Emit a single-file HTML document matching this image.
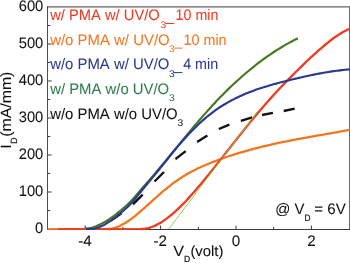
<!DOCTYPE html>
<html><head><meta charset="utf-8"><title>chart</title>
<style>
html,body{margin:0;padding:0;background:#fff;}
body{width:350px;height:263px;overflow:hidden;font-family:"Liberation Sans",sans-serif;}
svg{display:block;mix-blend-mode:multiply;filter:blur(0.3px)}
text{font-family:"Liberation Sans",sans-serif;stroke-width:0.22px;font-kerning:none;text-rendering:geometricPrecision;}
.tk{font-size:15.2px;fill:#111;stroke:#111;stroke-width:0.05px}
.lg{font-size:15.2px;stroke-width:0.05px}
.ax{font-size:14.8px;stroke-width:0.08px}
.sb{font-size:9.7px;stroke-width:0.03px}
.sb2{font-size:8.4px}
.sb3{font-size:9.2px;stroke-width:0.2px}
.sb4{font-size:9.1px;stroke-width:0.2px}
</style></head><body>
<svg width="350" height="263" viewBox="0 0 350 263">
<rect width="350" height="263" fill="#fff"/>
<rect x="47" y="6.4" width="302.5" height="1" fill="#3a3a3a"/>
<rect x="47.05" y="6.4" width="0.9" height="223.6" fill="#3a3a3a"/>
<rect x="349.1" y="6.4" width="0.9" height="223.6" fill="#555"/>
<rect x="47" y="229" width="303" height="1" fill="#3a3a3a"/>
<rect x="48" y="210.00" width="2.2" height="1" fill="#3a3a3a"/>
<rect x="48" y="191.50" width="3.6" height="1" fill="#3a3a3a"/>
<rect x="48" y="173.00" width="2.2" height="1" fill="#3a3a3a"/>
<rect x="48" y="154.50" width="3.6" height="1" fill="#3a3a3a"/>
<rect x="48" y="136.00" width="2.2" height="1" fill="#3a3a3a"/>
<rect x="48" y="117.50" width="3.6" height="1" fill="#3a3a3a"/>
<rect x="48" y="99.00" width="2.2" height="1" fill="#3a3a3a"/>
<rect x="48" y="80.50" width="3.6" height="1" fill="#3a3a3a"/>
<rect x="48" y="62.00" width="2.2" height="1" fill="#3a3a3a"/>
<rect x="48" y="43.50" width="3.6" height="1" fill="#3a3a3a"/>
<rect x="48" y="25.00" width="2.2" height="1" fill="#3a3a3a"/>
<rect x="84.70" y="225.50" width="1" height="3.5" fill="#3a3a3a"/>
<rect x="122.40" y="226.80" width="1" height="2.2" fill="#3a3a3a"/>
<rect x="160.10" y="225.50" width="1" height="3.5" fill="#3a3a3a"/>
<rect x="197.80" y="226.80" width="1" height="2.2" fill="#3a3a3a"/>
<rect x="235.50" y="225.50" width="1" height="3.5" fill="#3a3a3a"/>
<rect x="273.20" y="226.80" width="1" height="2.2" fill="#3a3a3a"/>
<rect x="310.90" y="225.50" width="1" height="3.5" fill="#3a3a3a"/>
<line x1="111.0" y1="220.5" x2="121.5" y2="213.3" stroke="#111" stroke-width="2.35"/>
<line x1="132.9" y1="204.3" x2="142.7" y2="194.7" stroke="#111" stroke-width="2.35"/>
<line x1="154.5" y1="181.5" x2="164.0" y2="172.0" stroke="#111" stroke-width="2.35"/>
<line x1="175.4" y1="159.1" x2="185.7" y2="151.1" stroke="#111" stroke-width="2.35"/>
<line x1="197.1" y1="142.0" x2="207.4" y2="135.6" stroke="#111" stroke-width="2.35"/>
<line x1="218.8" y1="129.0" x2="229.4" y2="124.7" stroke="#111" stroke-width="2.35"/>
<line x1="240.9" y1="120.9" x2="252.3" y2="117.4" stroke="#111" stroke-width="2.35"/>
<line x1="262.0" y1="115.0" x2="272.9" y2="112.9" stroke="#111" stroke-width="2.35"/>
<line x1="283.7" y1="111.0" x2="294.7" y2="108.7" stroke="#111" stroke-width="2.35"/>
<path d="M84.50 228.64 C84.99 228.64 86.47 228.70 87.46 228.61 C88.44 228.53 89.43 228.35 90.41 228.13 C91.40 227.91 92.39 227.61 93.37 227.28 C94.36 226.95 95.34 226.59 96.33 226.16 C97.31 225.74 98.30 225.20 99.29 224.73 C100.27 224.26 101.26 223.84 102.24 223.35 C103.23 222.86 104.21 222.36 105.20 221.80 C106.19 221.25 107.17 220.64 108.16 220.00 C109.14 219.36 110.13 218.68 111.11 217.98 C112.10 217.27 113.09 216.53 114.07 215.77 C115.06 215.02 116.04 214.23 117.03 213.44 C118.01 212.65 119.00 211.84 119.99 211.03 C120.97 210.21 121.96 209.40 122.94 208.56 C123.93 207.73 124.91 206.88 125.90 205.99 C126.89 205.10 127.87 204.18 128.86 203.22 C129.84 202.26 130.83 201.26 131.81 200.22 C132.80 199.17 133.79 198.06 134.77 196.94 C135.76 195.82 136.74 194.66 137.73 193.51 C138.71 192.35 139.70 191.16 140.69 190.01 C141.67 188.85 142.66 187.70 143.64 186.56 C144.63 185.43 145.61 184.33 146.60 183.21 C147.59 182.10 148.57 181.00 149.56 179.88 C150.54 178.76 151.53 177.63 152.51 176.50 C153.50 175.37 154.49 174.23 155.47 173.07 C156.46 171.91 157.44 170.72 158.43 169.54 C159.41 168.36 160.40 167.18 161.39 166.00 C162.37 164.82 163.36 163.65 164.34 162.45 C165.33 161.25 166.31 160.03 167.30 158.82 C168.29 157.61 169.27 156.39 170.26 155.18 C171.24 153.98 171.49 153.68 173.21 151.58 C174.94 149.48 178.95 144.62 180.63 142.58 C182.31 140.53 182.40 140.40 183.29 139.31 C184.18 138.23 185.07 137.14 185.96 136.06 C186.85 134.99 187.73 133.91 188.62 132.84 C189.51 131.77 190.40 130.70 191.29 129.64 C192.18 128.58 193.06 127.52 193.95 126.47 C194.84 125.42 195.73 124.37 196.62 123.33 C197.51 122.28 198.40 121.25 199.28 120.22 C200.17 119.19 201.06 118.16 201.95 117.15 C202.84 116.13 203.73 115.12 204.61 114.11 C205.50 113.11 206.39 112.11 207.28 111.12 C208.17 110.13 209.06 109.15 209.94 108.17 C210.83 107.20 211.72 106.23 212.61 105.27 C213.50 104.31 214.39 103.36 215.28 102.42 C216.16 101.48 217.05 100.54 217.94 99.62 C218.83 98.69 219.72 97.77 220.61 96.86 C221.49 95.95 222.38 95.05 223.27 94.15 C224.16 93.26 225.05 92.37 225.94 91.50 C226.83 90.62 227.71 89.75 228.60 88.89 C229.49 88.03 230.38 87.17 231.27 86.33 C232.16 85.48 233.04 84.64 233.93 83.81 C234.82 82.98 235.71 82.16 236.60 81.35 C237.49 80.54 238.37 79.73 239.26 78.94 C240.15 78.14 241.04 77.35 241.93 76.57 C242.82 75.79 243.71 75.02 244.59 74.25 C245.48 73.49 246.37 72.73 247.26 71.98 C248.15 71.24 249.04 70.50 249.92 69.77 C250.81 69.03 251.70 68.31 252.59 67.60 C253.48 66.88 254.37 66.17 255.26 65.47 C256.14 64.77 257.03 64.08 257.92 63.40 C258.81 62.72 259.70 62.04 260.59 61.38 C261.47 60.71 262.36 60.05 263.25 59.40 C264.14 58.75 265.03 58.11 265.92 57.48 C266.80 56.84 267.69 56.22 268.58 55.60 C269.47 54.98 270.36 54.37 271.25 53.77 C272.14 53.17 273.02 52.58 273.91 52.00 C274.80 51.41 275.69 50.84 276.58 50.27 C277.47 49.70 278.35 49.14 279.24 48.59 C280.13 48.04 281.02 47.49 281.91 46.96 C282.80 46.42 283.69 45.89 284.57 45.38 C285.46 44.86 286.35 44.35 287.24 43.84 C288.13 43.34 289.02 42.85 289.90 42.36 C290.79 41.88 291.68 41.40 292.57 40.93 C293.46 40.46 294.35 40.00 295.23 39.55 C296.12 39.09 297.46 38.43 297.90 38.21" fill="none" stroke="#45781f" stroke-width="2.15"/>
<rect x="47.5" y="228.1" width="62" height="1.8" fill="#f37721"/>
<path d="M108.00 229.00 C108.58 228.97 110.34 229.00 111.51 228.81 C112.68 228.62 113.85 228.26 115.01 227.88 C116.18 227.51 117.35 227.05 118.52 226.54 C119.69 226.04 120.86 225.46 122.03 224.84 C123.20 224.21 124.37 223.53 125.54 222.80 C126.71 222.07 127.87 221.29 129.04 220.47 C130.21 219.66 131.38 218.79 132.55 217.90 C133.72 217.01 134.89 216.08 136.06 215.13 C137.23 214.17 138.40 213.19 139.57 212.19 C140.73 211.19 141.90 210.16 143.07 209.13 C144.24 208.10 145.41 207.04 146.58 205.99 C147.75 204.94 148.92 203.87 150.09 202.81 C151.26 201.75 152.43 200.69 153.59 199.64 C154.76 198.59 155.93 197.54 157.10 196.51 C158.27 195.47 159.44 194.45 160.61 193.45 C161.78 192.44 162.95 191.45 164.12 190.47 C165.29 189.50 166.45 188.54 167.62 187.60 C168.79 186.66 169.96 185.73 171.13 184.83 C172.30 183.93 173.47 183.05 174.64 182.19 C175.81 181.34 176.98 180.50 178.14 179.69 C179.31 178.88 180.48 178.10 181.65 177.34 C182.82 176.58 183.99 175.85 185.16 175.15 C186.33 174.45 187.50 173.78 188.67 173.13 C189.84 172.47 191.00 171.85 192.17 171.24 C193.34 170.64 194.51 170.06 195.68 169.49 C196.85 168.92 198.02 168.37 199.19 167.83 C200.36 167.30 201.53 166.78 202.70 166.27 C203.86 165.76 205.03 165.26 206.20 164.76 C207.37 164.27 208.54 163.79 209.71 163.31 C210.88 162.84 212.05 162.37 213.22 161.91 C214.39 161.45 215.56 161.00 216.72 160.56 C217.89 160.12 219.06 159.68 220.23 159.25 C221.40 158.83 222.57 158.41 223.74 157.99 C224.91 157.58 226.08 157.17 227.25 156.77 C228.42 156.38 229.58 155.98 230.75 155.60 C231.92 155.21 233.09 154.84 234.26 154.46 C235.43 154.09 236.60 153.73 237.77 153.37 C238.94 153.01 240.11 152.66 241.28 152.31 C242.44 151.96 243.61 151.62 244.78 151.29 C245.95 150.95 247.12 150.62 248.29 150.30 C249.46 149.97 250.63 149.66 251.80 149.34 C252.97 149.03 254.14 148.72 255.30 148.42 C256.47 148.12 257.64 147.82 258.81 147.53 C259.98 147.23 261.15 146.94 262.32 146.66 C263.49 146.38 264.66 146.10 265.83 145.82 C267.00 145.55 268.16 145.27 269.33 145.01 C270.50 144.74 271.67 144.48 272.84 144.22 C274.01 143.96 275.18 143.70 276.35 143.45 C277.52 143.20 278.69 142.95 279.86 142.71 C281.02 142.46 282.19 142.22 283.36 141.98 C284.53 141.74 285.70 141.50 286.87 141.27 C288.04 141.04 289.21 140.80 290.38 140.58 C291.55 140.35 292.71 140.12 293.88 139.90 C295.05 139.67 296.22 139.45 297.39 139.23 C298.56 139.01 299.73 138.80 300.90 138.58 C302.07 138.36 303.24 138.15 304.41 137.94 C305.57 137.72 306.74 137.51 307.91 137.30 C309.08 137.09 310.25 136.88 311.42 136.68 C312.59 136.47 313.76 136.26 314.93 136.05 C316.10 135.85 317.27 135.64 318.43 135.44 C319.60 135.23 320.77 135.03 321.94 134.82 C323.11 134.62 324.28 134.41 325.45 134.21 C326.62 134.00 327.79 133.80 328.96 133.59 C330.13 133.39 331.29 133.18 332.46 132.98 C333.63 132.77 334.80 132.57 335.97 132.36 C337.14 132.15 338.31 131.94 339.48 131.73 C340.65 131.53 341.82 131.32 342.99 131.10 C344.15 130.89 345.32 130.68 346.49 130.47 C347.66 130.25 349.42 129.93 350.00 129.82" fill="none" stroke="#f37721" stroke-width="2.3" stroke-linejoin="round"/>
<rect x="58" y="228.1" width="85" height="1.8" fill="#ee3b22"/>
<path d="M141.00 229.00 C141.50 228.99 143.02 229.05 144.03 228.95 C145.04 228.86 146.05 228.64 147.06 228.41 C148.07 228.19 149.08 227.91 150.09 227.59 C151.10 227.27 152.11 226.90 153.12 226.49 C154.13 226.08 155.14 225.63 156.14 225.13 C157.15 224.64 158.16 224.11 159.17 223.54 C160.18 222.96 161.19 222.35 162.20 221.71 C163.21 221.06 164.22 220.38 165.23 219.66 C166.24 218.95 167.25 218.19 168.26 217.41 C169.27 216.63 170.28 215.82 171.29 214.98 C172.30 214.13 173.31 213.26 174.32 212.36 C175.33 211.46 176.34 210.54 177.35 209.59 C178.36 208.64 179.37 207.66 180.38 206.66 C181.39 205.67 182.40 204.64 183.41 203.61 C184.42 202.57 185.43 201.50 186.43 200.43 C187.44 199.35 188.45 198.25 189.46 197.14 C190.47 196.03 191.48 194.90 192.49 193.76 C193.50 192.62 194.51 191.47 195.52 190.30 C196.53 189.14 197.54 187.96 198.55 186.77 C199.56 185.59 200.57 184.39 201.58 183.18 C202.59 181.98 203.60 180.76 204.61 179.54 C205.62 178.31 206.63 177.08 207.64 175.84 C208.65 174.60 209.66 173.36 210.67 172.11 C211.68 170.85 212.69 169.59 213.70 168.33 C214.71 167.07 215.71 165.80 216.72 164.52 C217.73 163.25 218.74 161.97 219.75 160.69 C220.76 159.41 221.77 158.13 222.78 156.84 C223.79 155.56 224.80 154.27 225.81 152.98 C226.82 151.69 227.83 150.40 228.84 149.11 C229.85 147.82 230.86 146.53 231.87 145.25 C232.88 143.96 233.89 142.67 234.90 141.38 C235.91 140.10 236.92 138.81 237.93 137.53 C238.94 136.25 239.95 134.97 240.96 133.70 C241.97 132.42 242.98 131.15 243.99 129.89 C245.00 128.63 246.00 127.36 247.01 126.11 C248.02 124.86 249.03 123.61 250.04 122.37 C251.05 121.13 252.06 119.90 253.07 118.67 C254.08 117.45 255.09 116.23 256.10 115.02 C257.11 113.81 258.12 112.61 259.13 111.42 C260.14 110.24 261.15 109.06 262.16 107.89 C263.17 106.72 264.18 105.56 265.19 104.41 C266.20 103.26 267.21 102.12 268.22 100.98 C269.23 99.85 270.24 98.73 271.25 97.61 C272.26 96.50 273.27 95.39 274.28 94.29 C275.29 93.19 276.29 92.10 277.30 91.02 C278.31 89.94 279.32 88.86 280.33 87.79 C281.34 86.73 282.35 85.67 283.36 84.61 C284.37 83.56 285.38 82.51 286.39 81.47 C287.40 80.44 288.41 79.40 289.42 78.38 C290.43 77.35 291.44 76.33 292.45 75.32 C293.46 74.31 294.47 73.30 295.48 72.30 C296.49 71.29 297.50 70.30 298.51 69.31 C299.52 68.32 300.53 67.33 301.54 66.35 C302.55 65.37 303.56 64.40 304.57 63.43 C305.57 62.46 306.58 61.49 307.59 60.53 C308.60 59.57 309.61 58.61 310.62 57.67 C311.63 56.72 312.64 55.78 313.65 54.85 C314.66 53.91 315.67 52.99 316.68 52.08 C317.69 51.17 318.70 50.27 319.71 49.39 C320.72 48.50 321.73 47.62 322.74 46.77 C323.75 45.91 324.76 45.06 325.77 44.24 C326.78 43.41 327.79 42.60 328.80 41.81 C329.81 41.02 330.82 40.25 331.83 39.50 C332.84 38.75 333.85 38.02 334.86 37.31 C335.86 36.60 336.87 35.92 337.88 35.26 C338.89 34.60 339.90 33.96 340.91 33.35 C341.92 32.74 342.93 32.15 343.94 31.60 C344.95 31.05 345.96 30.52 346.97 30.02 C347.98 29.52 349.50 28.86 350.00 28.62" fill="none" stroke="#ee3b22" stroke-width="2.3" stroke-linejoin="round"/>
<line x1="168.8" y1="229" x2="257.5" y2="111.5" stroke="#8cc63f" stroke-width="0.9"/>
<path d="M86.00 228.89 C86.64 228.91 88.55 229.03 89.83 229.00 C91.10 228.97 92.38 228.90 93.65 228.69 C94.93 228.48 96.20 228.15 97.48 227.74 C98.75 227.34 100.03 226.85 101.30 226.28 C102.58 225.72 103.86 225.06 105.13 224.34 C106.41 223.63 107.68 222.82 108.96 221.97 C110.23 221.12 111.51 220.20 112.78 219.25 C114.06 218.30 115.33 217.30 116.61 216.28 C117.88 215.26 119.16 214.21 120.43 213.15 C121.71 212.10 122.99 211.06 124.26 209.94 C125.54 208.82 126.81 207.69 128.09 206.44 C129.36 205.19 130.64 203.85 131.91 202.44 C133.19 201.03 134.46 199.52 135.74 197.99 C137.01 196.46 138.29 194.83 139.57 193.26 C140.84 191.69 142.12 190.10 143.39 188.55 C144.67 187.00 145.94 185.49 147.22 183.96 C148.49 182.43 149.77 180.91 151.04 179.36 C152.32 177.82 153.59 176.26 154.87 174.69 C156.14 173.13 156.85 172.26 158.70 169.97 C160.54 167.68 164.20 163.15 165.96 160.96 C167.72 158.76 168.15 158.19 169.25 156.83 C170.34 155.46 171.44 154.11 172.53 152.77 C173.63 151.43 174.72 150.10 175.82 148.78 C176.91 147.47 178.01 146.17 179.11 144.89 C180.20 143.61 181.30 142.35 182.39 141.10 C183.49 139.86 184.58 138.63 185.68 137.42 C186.77 136.21 187.87 135.03 188.96 133.86 C190.06 132.70 191.16 131.56 192.25 130.44 C193.35 129.32 194.44 128.22 195.54 127.15 C196.63 126.07 197.73 125.02 198.82 123.99 C199.92 122.97 201.01 121.96 202.11 120.98 C203.21 120.00 204.30 119.04 205.40 118.11 C206.49 117.18 207.59 116.27 208.68 115.39 C209.78 114.51 210.87 113.65 211.97 112.81 C213.06 111.98 214.16 111.17 215.26 110.39 C216.35 109.60 217.45 108.85 218.54 108.11 C219.64 107.37 220.73 106.66 221.83 105.97 C222.92 105.28 224.02 104.61 225.12 103.96 C226.21 103.31 227.31 102.68 228.40 102.07 C229.50 101.45 230.59 100.86 231.69 100.28 C232.78 99.70 233.88 99.14 234.97 98.59 C236.07 98.05 237.17 97.51 238.26 97.00 C239.36 96.48 240.45 95.98 241.55 95.49 C242.64 95.00 243.74 94.53 244.83 94.06 C245.93 93.60 247.02 93.15 248.12 92.72 C249.22 92.28 250.31 91.85 251.41 91.44 C252.50 91.02 253.60 90.62 254.69 90.23 C255.79 89.83 256.88 89.45 257.98 89.08 C259.08 88.70 260.17 88.34 261.27 87.99 C262.36 87.63 263.46 87.28 264.55 86.94 C265.65 86.60 266.74 86.27 267.84 85.95 C268.93 85.62 270.03 85.30 271.13 84.99 C272.22 84.68 273.32 84.37 274.41 84.07 C275.51 83.77 276.60 83.48 277.70 83.18 C278.79 82.89 279.89 82.60 280.98 82.32 C282.08 82.04 283.18 81.76 284.27 81.48 C285.37 81.20 286.46 80.92 287.56 80.65 C288.65 80.37 289.75 80.10 290.84 79.83 C291.94 79.56 293.04 79.30 294.13 79.03 C295.23 78.77 296.32 78.50 297.42 78.24 C298.51 77.98 299.61 77.73 300.70 77.47 C301.80 77.22 302.89 76.97 303.99 76.73 C305.09 76.48 306.18 76.24 307.28 76.00 C308.37 75.76 309.47 75.52 310.56 75.29 C311.66 75.06 312.75 74.84 313.85 74.61 C314.94 74.39 316.04 74.17 317.14 73.96 C318.23 73.75 319.33 73.54 320.42 73.34 C321.52 73.14 322.61 72.94 323.71 72.75 C324.80 72.55 325.90 72.37 326.99 72.19 C328.09 72.01 329.19 71.83 330.28 71.66 C331.38 71.49 332.47 71.33 333.57 71.18 C334.66 71.02 335.76 70.87 336.85 70.73 C337.95 70.58 339.05 70.45 340.14 70.32 C341.24 70.19 342.33 70.07 343.43 69.95 C344.52 69.84 345.62 69.73 346.71 69.63 C347.81 69.53 349.45 69.40 350.00 69.36" fill="none" stroke="#2b3990" stroke-width="2.15"/>
<text x="35.1" y="233.3" textLength="8.2" lengthAdjust="spacingAndGlyphs" class="tk">0</text>
<text x="18.7" y="196.3" textLength="24.6" lengthAdjust="spacingAndGlyphs" class="tk">100</text>
<text x="18.7" y="159.3" textLength="24.6" lengthAdjust="spacingAndGlyphs" class="tk">200</text>
<text x="18.7" y="122.3" textLength="24.6" lengthAdjust="spacingAndGlyphs" class="tk">300</text>
<text x="18.7" y="85.3" textLength="24.6" lengthAdjust="spacingAndGlyphs" class="tk">400</text>
<text x="18.7" y="48.3" textLength="24.6" lengthAdjust="spacingAndGlyphs" class="tk">500</text>
<text x="18.7" y="11.3" textLength="24.6" lengthAdjust="spacingAndGlyphs" class="tk">600</text>
<text x="84.9" y="245.8" text-anchor="middle" class="tk">-4</text>
<text x="160.3" y="245.8" text-anchor="middle" class="tk">-2</text>
<text x="236.0" y="245.8" text-anchor="middle" class="tk">0</text>
<text x="311.4" y="245.8" text-anchor="middle" class="tk">2</text>
<text x="50.2" y="20.3" textLength="109.6" lengthAdjust="spacingAndGlyphs" fill="#ee3b22" stroke="#ee3b22" class="lg">w/ PMA w/ UV/O</text>
<text x="160.4" y="27.5" textLength="5.7" lengthAdjust="spacingAndGlyphs" fill="#ee3b22" stroke="#ee3b22" class="sb">3</text>
<rect x="165.7" y="23" width="8.6" height="1" fill="#ee3b22"/>
<text x="175.6" y="20.3" textLength="42.8" lengthAdjust="spacingAndGlyphs" fill="#ee3b22" stroke="#ee3b22" class="lg">10 min</text>
<text x="50.2" y="44.8" textLength="119.5" lengthAdjust="spacingAndGlyphs" fill="#f37721" stroke="#f37721" class="lg">w/o PMA w/ UV/O</text>
<text x="169.0" y="52.0" textLength="5.7" lengthAdjust="spacingAndGlyphs" fill="#f37721" stroke="#f37721" class="sb">3</text>
<rect x="174.2" y="47.6" width="8.4" height="1" fill="#f37721"/>
<text x="183.4" y="44.8" textLength="43.2" lengthAdjust="spacingAndGlyphs" fill="#f37721" stroke="#f37721" class="lg">10 min</text>
<text x="50.2" y="69.3" textLength="119.2" lengthAdjust="spacingAndGlyphs" fill="#2b3990" stroke="#2b3990" class="lg">w/o PMA w/ UV/O</text>
<text x="169.0" y="76.5" textLength="5.7" lengthAdjust="spacingAndGlyphs" fill="#2b3990" stroke="#2b3990" class="sb">3</text>
<rect x="174.0" y="72.1" width="8.4" height="1" fill="#2b3990"/>
<text x="183.2" y="69.3" textLength="35.0" lengthAdjust="spacingAndGlyphs" fill="#2b3990" stroke="#2b3990" class="lg">4 min</text>
<text x="50.2" y="94.3" textLength="119.0" lengthAdjust="spacingAndGlyphs" fill="#2f7d4c" stroke="#2f7d4c" class="lg">w/ PMA w/o UV/O</text>
<text x="169.0" y="101.4" textLength="5.7" lengthAdjust="spacingAndGlyphs" fill="#2f7d4c" stroke="#2f7d4c" class="sb">3</text>
<text x="50.2" y="119.3" textLength="127.5" lengthAdjust="spacingAndGlyphs" fill="#111" stroke="#111" class="lg">w/o PMA w/o UV/O</text>
<text x="177.4" y="126.2" textLength="5.7" lengthAdjust="spacingAndGlyphs" fill="#111" stroke="#111" class="sb">3</text>
<text x="275.3" y="214.2" textLength="29.2" lengthAdjust="spacingAndGlyphs" fill="#111" stroke="#111" class="lg">@ V</text>
<text x="304.4" y="220.8" textLength="6.0" lengthAdjust="spacingAndGlyphs" fill="#111" stroke="#111" class="sb3">D</text>
<text x="314.2" y="214.2" textLength="31.6" lengthAdjust="spacingAndGlyphs" fill="#111" stroke="#111" class="lg">= 6V</text>
<text x="173.3" y="256.2" textLength="10.8" lengthAdjust="spacingAndGlyphs" fill="#111" stroke="#111" class="ax">V</text>
<text x="184.0" y="262.3" textLength="6.2" lengthAdjust="spacingAndGlyphs" fill="#111" stroke="#111" class="sb4">D</text>
<text x="190.4" y="256.2" textLength="33.0" lengthAdjust="spacingAndGlyphs" fill="#111" stroke="#111" class="ax">(volt)</text>
<g transform="translate(11.2,148.4) rotate(-90)"><text x="0.0" y="0.0" textLength="4.2" lengthAdjust="spacingAndGlyphs" fill="#111" stroke="#111" class="ax">I</text><text x="4.7" y="6.0" textLength="6.3" lengthAdjust="spacingAndGlyphs" fill="#111" stroke="#111" class="sb4">D</text><text x="11.6" y="0.0" textLength="65.2" lengthAdjust="spacingAndGlyphs" fill="#111" stroke="#111" class="ax">(mA/mm)</text></g>
</svg>
</body></html>
